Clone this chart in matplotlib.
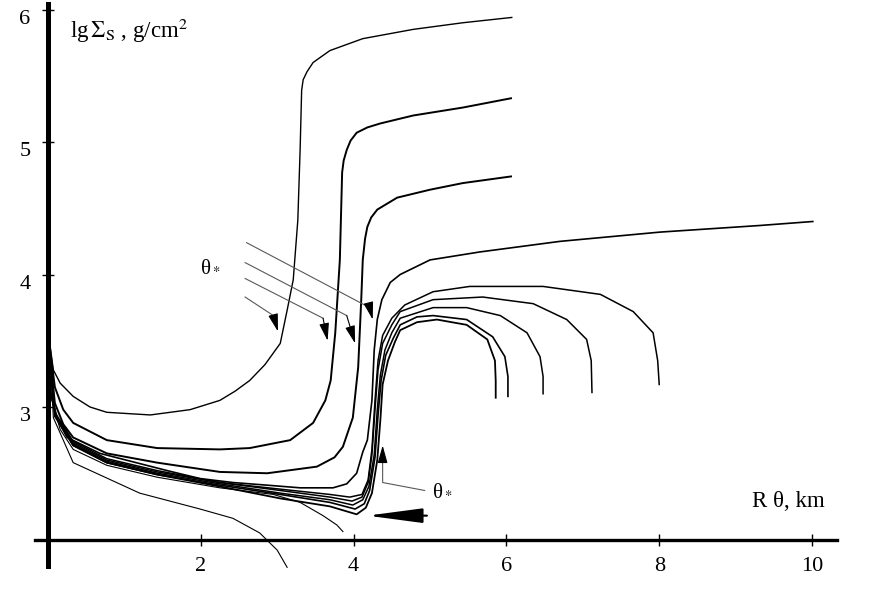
import matplotlib
matplotlib.use('Agg')
import matplotlib.pyplot as plt
from matplotlib.transforms import ScaledTranslation

plt.rcParams['font.family'] = ['Liberation Serif', 'DejaVu Serif']
plt.rcParams['mathtext.fontset'] = 'stix'

# lg Sigma_s profiles vs R*theta (km)
xa = [0.0, 0.07, 0.16, 0.33, 0.55, 0.77, 1.34, 1.86, 2.25, 2.45, 2.64, 2.84, 3.04,
      3.13, 3.21, 3.27, 3.30, 3.32, 3.34, 3.39, 3.47, 3.69, 4.12, 4.78, 5.43, 6.07]
ya = [3.58, 3.28, 3.18, 3.08, 3.00, 2.96, 2.94, 2.98, 3.05, 3.12, 3.20, 3.32, 3.48,
      3.73, 3.96, 4.41, 4.94, 5.39, 5.47, 5.53, 5.60, 5.69, 5.78, 5.85, 5.90, 5.94]

xb = [0.0, 0.09, 0.20, 0.33, 0.77, 1.43, 2.25, 2.64, 3.17, 3.47, 3.63, 3.70, 3.76,
      3.82, 3.85, 3.87, 3.91, 3.96, 4.04, 4.18, 4.35, 4.78, 5.43, 6.06]
yb = [3.56, 3.15, 2.98, 2.88, 2.75, 2.69, 2.68, 2.69, 2.75, 2.88, 3.05, 3.20, 3.56,
      4.11, 4.77, 4.86, 4.94, 5.01, 5.07, 5.11, 5.14, 5.20, 5.26, 5.33]

xc = [0.0, 0.09, 0.20, 0.33, 0.77, 1.43, 2.25, 2.87, 3.52, 3.75, 3.86, 3.99, 4.06,
      4.10, 4.12, 4.15, 4.18, 4.23, 4.31, 4.57, 5.00, 5.43, 6.06]
yc = [3.55, 3.03, 2.87, 2.77, 2.65, 2.58, 2.51, 2.50, 2.55, 2.62, 2.70, 2.92, 3.30,
      3.81, 4.11, 4.27, 4.36, 4.43, 4.49, 4.58, 4.64, 4.69, 4.74]

xd = [0.0, 0.03, 0.13, 0.25, 0.68, 1.56, 1.99, 2.42, 2.87, 3.30, 3.73, 3.91, 4.04,
      4.12, 4.18, 4.24, 4.27, 4.31, 4.37, 4.48, 4.61, 5.00, 5.65, 6.70, 8.01, 9.32, 10.01]
yd = [3.55, 3.11, 2.90, 2.77, 2.65, 2.52, 2.46, 2.43, 2.41, 2.39, 2.39, 2.42, 2.50,
      2.66, 2.75, 3.05, 3.43, 3.66, 3.81, 3.94, 4.00, 4.11, 4.17, 4.25, 4.32, 4.37, 4.40]

xe = [0.0, 0.09, 0.33, 0.77, 1.43, 2.25, 3.04, 3.69, 3.95, 4.11, 4.19, 4.24, 4.28,
      4.32, 4.38, 4.50, 4.67, 5.04, 5.52, 5.92, 6.48, 7.23, 7.66, 7.92, 7.98, 8.00]
ye = [3.55, 2.96, 2.74, 2.61, 2.52, 2.43, 2.38, 2.34, 2.32, 2.34, 2.45, 2.68, 3.05,
      3.35, 3.54, 3.67, 3.77, 3.87, 3.91, 3.91, 3.91, 3.85, 3.72, 3.56, 3.35, 3.17]

xf = [0.0, 0.09, 0.33, 0.77, 1.43, 2.25, 3.04, 3.69, 3.98, 4.11, 4.19, 4.24, 4.28,
      4.32, 4.38, 4.50, 4.61, 5.04, 5.69, 6.35, 6.79, 7.05, 7.11, 7.12]
yf = [3.54, 2.95, 2.73, 2.60, 2.51, 2.43, 2.37, 2.32, 2.29, 2.32, 2.43, 2.64, 2.98,
      3.28, 3.48, 3.62, 3.72, 3.81, 3.83, 3.78, 3.66, 3.51, 3.35, 3.11]

xg = [0.0, 0.09, 0.33, 0.77, 1.43, 2.25, 3.04, 3.69, 3.99, 4.12, 4.20, 4.27, 4.31,
      4.35, 4.41, 4.50, 4.61, 5.04, 5.48, 5.92, 6.27, 6.44, 6.48, 6.48]
yg = [3.54, 2.95, 2.72, 2.59, 2.50, 2.42, 2.35, 2.30, 2.26, 2.30, 2.40, 2.64, 2.98,
      3.24, 3.43, 3.56, 3.67, 3.75, 3.75, 3.69, 3.56, 3.38, 3.23, 3.10]

xh = [0.0, 0.09, 0.33, 0.77, 1.43, 2.25, 3.04, 3.69, 4.02, 4.14, 4.21, 4.28, 4.32,
      4.36, 4.42, 4.52, 4.61, 4.83, 5.04, 5.48, 5.82, 5.98, 6.02, 6.02]
yh = [3.54, 2.94, 2.71, 2.58, 2.49, 2.41, 2.34, 2.28, 2.23, 2.27, 2.37, 2.62, 2.94,
      3.20, 3.39, 3.52, 3.62, 3.68, 3.69, 3.66, 3.53, 3.38, 3.23, 3.08]

xi = [0.0, 0.09, 0.33, 0.77, 1.43, 2.25, 3.04, 3.69, 4.04, 4.16, 4.24, 4.31, 4.35,
      4.38, 4.45, 4.54, 4.61, 4.83, 5.09, 5.48, 5.75, 5.85, 5.86, 5.86]
yi = [3.54, 2.93, 2.71, 2.58, 2.49, 2.40, 2.31, 2.25, 2.19, 2.24, 2.35, 2.60, 2.90,
      3.17, 3.35, 3.49, 3.58, 3.64, 3.66, 3.62, 3.51, 3.35, 3.20, 3.07]

xj = [0.0, 0.05, 0.16, 0.33, 0.77, 1.43, 2.25, 2.95, 3.30, 3.60, 3.78, 3.86]
yj = [3.54, 3.05, 2.83, 2.68, 2.56, 2.47, 2.39, 2.34, 2.28, 2.18, 2.11, 2.06]

xk = [0.0, 0.03, 0.07, 0.33, 1.20, 1.99, 2.42, 2.77, 3.00, 3.13]
yk = [3.56, 3.41, 2.92, 2.58, 2.35, 2.23, 2.16, 2.05, 1.92, 1.79]

curves = [(xa, ya, 1.0), (xb, yb, 1.4), (xc, yc, 1.4), (xd, yd, 1.2),
          (xe, ye, 1.1), (xf, yf, 1.1), (xg, yg, 1.1), (xh, yh, 1.2),
          (xi, yi, 1.3), (xj, yj, 0.8), (xk, yk, 0.8)]

xticks = [2, 4, 6, 8, 10]
yticks = [3, 4, 5, 6]

fig = plt.figure(figsize=(8.72, 6.09), dpi=100)
ax = fig.add_axes([0, 0, 1, 1])
ax.set_xlim(-0.628, 10.785)
ax.set_ylim(1.4755, 6.0717)
ax.patch.set_visible(False)

for x, y, lw in curves:
    ax.plot(x, y, color='black', lw=lw, solid_joinstyle='round')

# axes drawn through the origin like the original
for s in ['top', 'right']:
    ax.spines[s].set_visible(False)
ax.spines['left'].set_position(('data', 0))
ax.spines['left'].set_bounds(1.8, 6.04)
ax.spines['left'].set_linewidth(3.6)
ax.spines['bottom'].set_position(('data', 2))
ax.spines['bottom'].set_bounds(-0.17, 10.33)
ax.spines['bottom'].set_linewidth(2.4)

ax.set_xticks(xticks)
ax.set_yticks(yticks)
ax.tick_params(direction='inout', length=9, width=1, labelsize=16)
ax.tick_params(axis='x', pad=8)
ax.tick_params(axis='y', pad=8)
off = ScaledTranslation(0, -0.07, fig.dpi_scale_trans)
for lbl in ax.get_yticklabels():
    lbl.set_transform(lbl.get_transform() + off)

ax.text(0.29, 5.785, r'lg$\,\Sigma_{\rm S}$ , g/cm$^2$', fontsize=16.5, va='baseline')
ax.text(9.22, 2.245, 'R θ, km', fontsize=16.5, va='baseline')

# theta_* annotations
gray = '0.35'
ax.text(2.12, 4.05, 'θ$_*$', fontsize=15, ha='center', va='center')
leaders = [
    ([2.60, 4.21], [4.24, 3.75], (4.25, 3.66)),
    ([2.58, 3.91], [4.09, 3.69], (4.02, 3.48)),
    ([2.58, 3.60], [3.97, 3.67], (3.66, 3.50)),
    ([2.58, 2.95], [3.83, 3.69], (3.01, 3.57)),
]
for lx, ly, tip in leaders:
    ax.plot(lx, ly, color=gray, lw=0.8)
    ax.annotate('', xy=tip, xytext=(lx[-1], ly[-1]),
                arrowprops=dict(arrowstyle='-|>,head_length=0.9,head_width=0.25',
                                color='black', lw=0.8, shrinkA=0, shrinkB=0,
                                mutation_scale=12))

ax.text(5.03, 2.36, 'θ$_*$', fontsize=15, ha='left', va='center')
ax.plot([4.93, 4.38, 4.38], [2.37, 2.43, 2.60], color=gray, lw=0.8)
ax.annotate('', xy=(4.38, 2.71), xytext=(4.38, 2.58),
            arrowprops=dict(arrowstyle='-|>,head_length=0.9,head_width=0.25',
                            color='black', lw=0.8, shrinkA=0, shrinkB=0,
                            mutation_scale=12))

# big arrow at the bottom
ax.annotate('', xy=(4.18, 2.18), xytext=(4.96, 2.18),
            arrowprops=dict(arrowstyle='-|>,head_length=3.4,head_width=0.45',
                            color='black', lw=1.5, shrinkA=0, shrinkB=0,
                            mutation_scale=10))

fig.savefig('out.png', dpi=100)
